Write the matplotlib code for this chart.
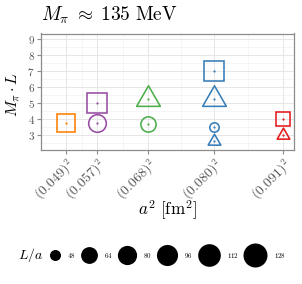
import numpy as np
import matplotlib
matplotlib.use("Agg")
import matplotlib.pyplot as plt
from matplotlib.path import Path

plt.rcParams["mathtext.fontset"] = "cm"
plt.rcParams["font.family"] = "serif"

# lattice spacings [fm] and their colours
spacings = [0.049, 0.057, 0.068, 0.080, 0.091]
colours = ["#FF7F00", "#984EA3", "#4DAF4A", "#377EB8", "#E41A1C"]

# ensembles: spacing, shape, L/a, M_pi * L
ens_a = [0.049, 0.057, 0.057, 0.068, 0.068, 0.080, 0.080, 0.080, 0.080, 0.091, 0.091]
ens_shape = ["s", "s", "o", "^", "o", "s", "^", "o", "^", "s", "^"]
ens_La = [112, 128, 80, 80, 64, 128, 80, 48, 48, 64, 48]
ens_MpiL = [3.73, 4.98, 3.73, 5.23, 3.70, 7.0, 5.25, 3.5, 2.63, 3.98, 2.97]

# legend sizes
La_levels = [48, 64, 80, 96, 112, 128]
yticks = [3, 4, 5, 6, 7, 8, 9]

W, H = 302, 284
fig = plt.figure(figsize=(W / 100, H / 100), dpi=100)

# pixel helpers
def fx(px):
    return px / W

def fy(py):
    return 1 - py / H

PX = 0.72  # points per pixel
LW = 1.6   # marker outline, px

def diam(L):
    # ggplot-like area scale, range 11..24 px
    return 11 + 13 * np.sqrt((L - min(La_levels)) / (max(La_levels) - min(La_levels)))

tri = Path([(0, 1), (-np.sqrt(3) / 2, -0.5), (np.sqrt(3) / 2, -0.5), (0, 1)],
           [Path.MOVETO, Path.LINETO, Path.LINETO, Path.CLOSEPOLY])

def marker_size(shape, d):
    p = d - LW
    if shape == "o":
        return p * PX, "o"
    if shape == "s":
        return 0.886 * p * PX, "s"
    return 1.3468 * p / 0.866 * PX, tri

ax = fig.add_axes([fx(41), fy(150), fx(293.5) - fx(41), fy(33.5) - fy(150)])
x2 = np.array(spacings) ** 2
ax.set_xlim(0.001724, 0.008566)
ax.set_ylim(2.06, 9.34)

# grid
xminor = (x2[:-1] + x2[1:]) / 2
yminor = np.arange(2.5, 9.5, 1.0)
for v in xminor:
    ax.axvline(v, color="#F2F2F2", lw=0.5, zorder=0)
for v in yminor:
    ax.axhline(v, color="#F2F2F2", lw=0.5, zorder=0)
for v in x2:
    ax.axvline(v, color="#E6E6E6", lw=0.7, zorder=0)
for v in yticks:
    ax.axhline(v, color="#E6E6E6", lw=0.7, zorder=0)

for a, sh, L, m in zip(ens_a, ens_shape, ens_La, ens_MpiL):
    c = colours[spacings.index(a)]
    ms, mk = marker_size(sh, diam(L))
    ax.plot(a ** 2, m, marker=mk, markersize=ms, markerfacecolor="none",
            markeredgecolor=c, markeredgewidth=LW * PX, ls="none", zorder=3,
            clip_on=False)
    ax.plot(a ** 2, m, marker="o", markersize=1.6, color=c, mew=0, ls="none", zorder=4)

for s in ax.spines.values():
    s.set_color("#8C8C8C")
    s.set_linewidth(0.9)
ax.tick_params(colors="#8C8C8C", length=3, width=0.8, pad=1.5)
ax.set_yticks(yticks, [f"${v}$" for v in yticks], fontsize=8, color="#555555")
ax.set_xticks(x2, [rf"$({v:.3f})^2$" for v in spacings], fontsize=10, color="#555555",
              rotation=45, ha="right", va="top", rotation_mode="anchor")

fig.text(fx(41), fy(21), r"$M_\pi \;\approx\; 135\ \mathrm{MeV}$", fontsize=14,
         ha="left", va="baseline")
fig.text(fx(14), fy(94), r"$M_\pi \cdot L$", fontsize=11.5, rotation=90,
         ha="center", va="center")
fig.text(fx(167), fy(210), r"$a^2\ [\mathrm{fm}^2]$", fontsize=12.3,
         ha="center", va="center")

# size legend
lg = fig.add_axes([0, 0, 1, 1], zorder=-1)
lg.set_xlim(0, W)
lg.set_ylim(H, 0)
lg.axis("off")
ly = 255
lg.text(43, ly, r"$L/a$", fontsize=10, ha="right", va="center")
lab_fs = 5
x = 49.5
gap = 6.5
for L in La_levels:
    d = diam(L)
    x += d / 2
    lg.plot(x, ly, "o", color="black", markersize=d * PX, mew=0)
    x += d / 2 + gap
    lg.text(x, ly, f"${L}$", fontsize=lab_fs, ha="left", va="center")
    x += len(str(L)) * 0.5 * lab_fs / PX + gap

fig.savefig("out.png", dpi=100)
